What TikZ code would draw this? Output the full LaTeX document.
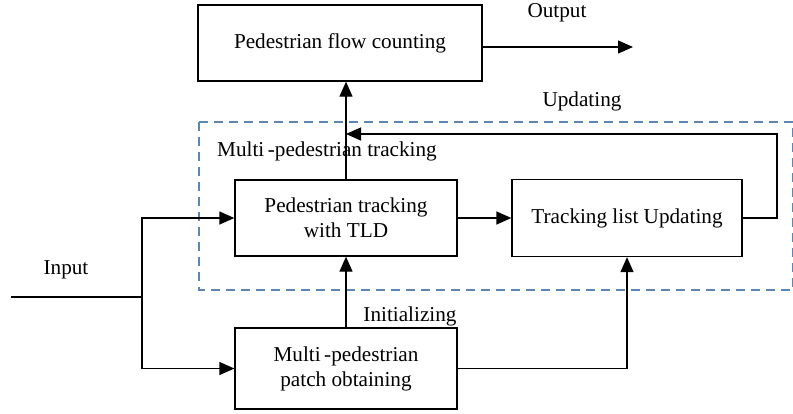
\documentclass[tikz,border=0pt]{standalone}
\usepackage{fontspec}
\setmainfont{Liberation Serif}
\usetikzlibrary{arrows.meta}
\definecolor{dashblue}{HTML}{5B87B3}
\tikzset{
  box/.style={draw, line width=1.3pt, align=center, inner sep=0pt},
  arr/.style={line width=1.3pt, -{Triangle[length=15pt,width=13pt]}},
  ln/.style={line width=1.3pt},
  lbl/.style={inner sep=0pt},
}
\begin{document}
\begin{tikzpicture}[x=1pt,y=-1pt,font=\fontsize{21.2}{25}\selectfont]
\useasboundingbox (0,0) rectangle (793,413);
\draw[dashblue, line width=1.3pt, dash pattern=on 9pt off 6pt] (199,122) rectangle (793,290);
\node[box, minimum width=284pt, minimum height=76pt] (flow) at (340,43) {Pedestrian flow counting};
\node[box, minimum width=222pt, minimum height=76pt] (tld) at (346,218) {Pedestrian tracking\\with TLD};
\node[box, minimum width=230pt, minimum height=77pt] (tlist) at (627,218) {Tracking list Updating};
\node[box, minimum width=222pt, minimum height=81pt] (patch) at (346,368.5) {Multi\,-pedestrian\\patch obtaining};
\coordinate (out) at (633,47);
\coordinate (in) at (11,297);
\coordinate (split) at (142,297);
\coordinate (corner) at (777,134);
\node[lbl] (outl) at (557,13) {Output};
\node[lbl] (updl) at (582,101) {Updating};
\node[lbl, anchor=west] (mpt) at (217,151) {Multi\,-pedestrian tracking};
\node[lbl] (initl) at (410,316) {Initializing};
\node[lbl] (inl) at (66,270) {Input};
\draw[arr] (flow.east |- out) -- (out);
\draw[arr] (tld.north) -- (tld.north |- flow.south);
\draw[arr] (tld.east) -- (tlist.west);
\draw[arr] (tlist.east) -| (corner) -- (tld.north |- corner);
\draw[ln] (in) -- (split);
\draw[arr] (split) |- (tld.west);
\draw[arr] (split) |- (patch.west);
\draw[arr] (patch.north) -- (tld.south);
\draw[arr] (patch.east) -| (tlist.south);
\end{tikzpicture}
\end{document}
